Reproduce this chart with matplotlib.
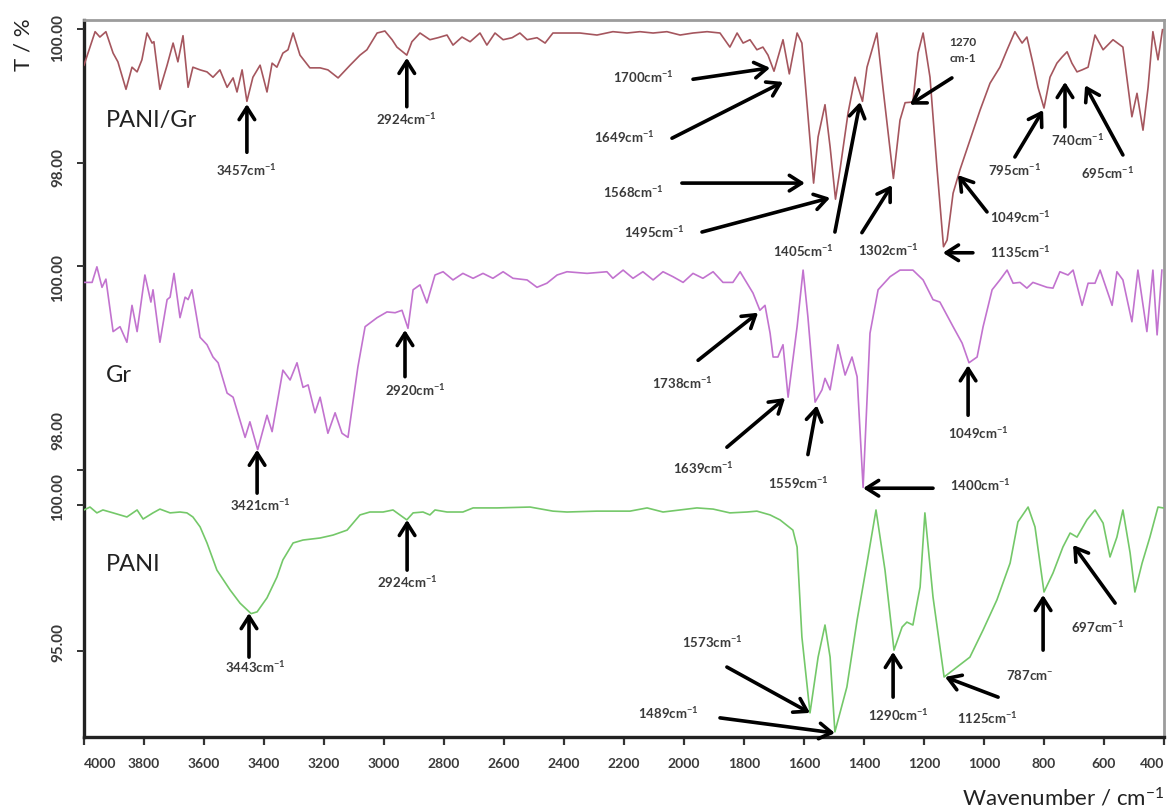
import matplotlib
matplotlib.use("Agg")
import matplotlib.pyplot as plt

plt.rcParams['font.family'] = ['Lato', 'DejaVu Sans']
plt.rcParams['mathtext.fontset'] = 'custom'
plt.rcParams['mathtext.rm'] = 'Lato'
plt.rcParams['mathtext.bf'] = 'Lato:bold'
plt.rcParams['mathtext.it'] = 'Lato:italic'

# ---------------- data (wavenumber cm-1, transmittance %) ----------------
wn_pg = [4000, 3963, 3947, 3927, 3903, 3887, 3860, 3840, 3823, 3807, 3790, 3773, 3767, 3747, 3723,
         3703, 3687, 3670, 3653, 3637, 3613, 3590, 3570, 3547, 3523, 3503, 3490, 3473, 3457, 3437,
         3413, 3390, 3373, 3357, 3337, 3320, 3303, 3280, 3247, 3213, 3187, 3153, 3113, 3080, 3057,
         3023, 2997, 2973, 2957, 2924, 2907, 2880, 2847, 2820, 2790, 2770, 2740, 2713, 2680, 2657,
         2630, 2603, 2573, 2547, 2523, 2490, 2463, 2437, 2390, 2347, 2290, 2237, 2190, 2147, 2103,
         2057, 2013, 1970, 1923, 1880, 1847, 1823, 1803, 1780, 1757, 1737, 1720, 1700, 1670, 1649,
         1623, 1607, 1568, 1553, 1530, 1513, 1495, 1480, 1453, 1430, 1405, 1390, 1357, 1337, 1302,
         1280, 1263, 1237, 1220, 1203, 1180, 1157, 1135, 1123, 1103, 1080, 1047, 1013, 980, 947,
         923, 897, 873, 857, 837, 820, 800, 780, 757, 740, 723, 707, 690, 673, 653,
         630, 603, 570, 537, 507, 490, 470, 453, 437, 420, 405]
t_pg = [99.46, 99.96, 99.88, 99.96, 99.64, 99.51, 99.10, 99.43, 99.36, 99.54, 99.94, 99.79, 99.81, 99.10, 99.46,
        99.79, 99.51, 99.90, 99.13, 99.43, 99.39, 99.36, 99.28, 99.39, 99.13, 99.27, 99.06, 99.39, 98.92, 99.28,
        99.46, 99.06, 99.49, 99.43, 99.64, 99.69, 99.94, 99.61, 99.42, 99.42, 99.39, 99.27, 99.46, 99.61, 99.69,
        99.94, 99.97, 99.84, 99.73, 99.61, 99.81, 99.94, 99.84, 99.87, 99.91, 99.76, 99.88, 99.81, 99.94, 99.76,
        99.94, 99.84, 99.87, 99.94, 99.84, 99.87, 99.79, 99.94, 99.94, 99.94, 99.91, 99.96, 99.94, 99.96, 99.94,
        99.96, 99.91, 99.94, 99.96, 99.94, 99.73, 99.94, 99.79, 99.84, 99.69, 99.73, 99.61, 99.37, 99.84, 99.33,
        99.94, 99.79, 97.70, 98.39, 98.87, 98.24, 97.46, 97.90, 98.75, 99.28, 98.92, 99.43, 99.94, 99.13, 97.77,
        98.64, 98.90, 98.91, 99.64, 99.94, 99.28, 97.94, 96.75, 96.85, 97.55, 97.90, 98.34, 98.79, 99.19, 99.43,
        99.69, 99.96, 99.79, 99.88, 99.49, 99.13, 98.82, 99.28, 99.49, 99.58, 99.66, 99.49, 99.36, 99.39, 99.43,
        99.91, 99.69, 99.84, 99.73, 98.69, 99.04, 98.49, 99.13, 99.96, 99.54, 99.99]

wn_gr = [4000, 3973, 3957, 3940, 3927, 3903, 3880, 3857, 3840, 3823, 3797, 3777, 3770, 3747, 3723,
         3713, 3700, 3680, 3663, 3653, 3640, 3613, 3590, 3570, 3553, 3523, 3503, 3463, 3447, 3421,
         3390, 3373, 3337, 3313, 3290, 3270, 3253, 3230, 3213, 3187, 3163, 3140, 3120, 3087, 3063,
         3023, 2990, 2963, 2940, 2920, 2903, 2880, 2857, 2830, 2803, 2770, 2737, 2703, 2670, 2637,
         2603, 2570, 2523, 2490, 2457, 2423, 2390, 2323, 2257, 2237, 2203, 2170, 2137, 2103, 2070,
         2037, 2003, 1970, 1937, 1903, 1870, 1837, 1813, 1790, 1770, 1747, 1730, 1713, 1703, 1687,
         1670, 1653, 1623, 1603, 1587, 1563, 1540, 1530, 1513, 1487, 1463, 1440, 1423, 1403, 1380,
         1353, 1313, 1280, 1237, 1203, 1170, 1147, 1103, 1073, 1050, 1023, 1003, 973, 947, 923,
         903, 880, 857, 837, 813, 790, 770, 747, 720, 703, 673, 653, 630, 613, 573,
         557, 537, 507, 487, 457, 437, 423, 407]
t_gr = [99.80, 99.80, 99.99, 99.74, 99.84, 99.20, 99.26, 99.07, 99.52, 99.20, 99.89, 99.56, 99.71, 99.07, 99.59,
        99.62, 99.91, 99.37, 99.62, 99.59, 99.71, 99.13, 99.04, 98.89, 98.82, 98.45, 98.40, 97.91, 98.10, 97.76,
        98.18, 97.98, 98.73, 98.61, 98.82, 98.52, 98.55, 98.21, 98.40, 97.96, 98.21, 97.96, 97.91, 98.77, 99.26,
        99.37, 99.44, 99.43, 99.46, 99.24, 99.71, 99.77, 99.55, 99.89, 99.93, 99.83, 99.91, 99.85, 99.91, 99.85,
        99.93, 99.85, 99.83, 99.74, 99.79, 99.89, 99.93, 99.91, 99.93, 99.85, 99.95, 99.85, 99.93, 99.83, 99.93,
        99.87, 99.80, 99.91, 99.85, 99.93, 99.80, 99.80, 99.93, 99.79, 99.67, 99.46, 99.52, 99.18, 98.89, 98.89,
        99.04, 98.40, 99.26, 99.95, 99.38, 98.34, 98.49, 98.63, 98.49, 99.04, 98.67, 98.89, 98.65, 97.30, 99.18,
        99.71, 99.87, 99.95, 99.95, 99.83, 99.59, 99.56, 99.26, 99.06, 98.82, 98.89, 99.26, 99.71, 99.83, 99.95,
        99.79, 99.80, 99.73, 99.80, 99.77, 99.74, 99.73, 99.93, 99.89, 99.95, 99.52, 99.79, 99.79, 99.95, 99.52,
        99.93, 99.83, 99.32, 99.95, 99.20, 99.95, 99.16, 99.95]

wn_pani = [4000, 3980, 3957, 3937, 3903, 3857, 3823, 3803, 3770, 3747, 3713, 3680, 3657, 3637, 3613,
           3590, 3557, 3513, 3480, 3443, 3423, 3390, 3357, 3337, 3303, 3270, 3213, 3170, 3123, 3080,
           3047, 3003, 2970, 2947, 2924, 2903, 2870, 2847, 2830, 2790, 2737, 2703, 2623, 2513, 2437,
           2390, 2290, 2180, 2123, 2070, 1957, 1903, 1847, 1790, 1757, 1713, 1680, 1637, 1623, 1607,
           1580, 1553, 1530, 1513, 1497, 1457, 1423, 1390, 1360, 1330, 1300, 1273, 1257, 1237, 1213,
           1197, 1170, 1133, 1090, 1047, 1003, 957, 913, 887, 853, 830, 800, 770, 737, 713,
           690, 657, 630, 603, 580, 557, 537, 513, 497, 473, 447, 420, 403]
t_pani = [99.83, 99.93, 99.73, 99.83, 99.73, 99.59, 99.83, 99.52, 99.73, 99.86, 99.73, 99.76, 99.73, 99.59, 99.25,
          98.70, 97.77, 97.09, 96.64, 96.28, 96.34, 96.82, 97.53, 98.12, 98.70, 98.80, 98.87, 98.97, 99.14, 99.66,
          99.76, 99.76, 99.83, 99.66, 99.49, 99.73, 99.76, 99.66, 99.83, 99.76, 99.76, 99.90, 99.90, 99.93, 99.79,
          99.76, 99.79, 99.79, 99.90, 99.76, 99.90, 99.86, 99.73, 99.76, 99.79, 99.66, 99.49, 99.14, 98.56, 95.48,
          92.88, 94.79, 95.89, 94.79, 92.23, 93.77, 96.06, 98.01, 99.83, 97.77, 95.03, 95.82, 95.99, 95.89, 97.19,
          99.73, 96.85, 94.11, 94.45, 94.79, 95.72, 96.75, 98.01, 99.42, 99.93, 99.25, 97.02, 97.67, 98.56, 99.04,
          98.90, 99.49, 99.83, 99.38, 98.22, 98.90, 99.83, 98.36, 97.02, 98.01, 98.90, 99.93, 99.90]

x_ticks = [4000, 3800, 3600, 3400, 3200, 3000, 2800, 2600, 2400, 2200, 2000, 1800, 1600, 1400, 1200,
           1000, 800, 600, 400]
names = ["PANI/Gr", "Gr", "PANI"]

# y-axis labels per panel: (tick values, (label text, value) pairs)
pg_ticks = [100, 98]
pg_labels = [("100.00", 100), ("98.00", 98)]
gr_ticks = [100, 97.51]
gr_labels = [("100.00", 100), ("98.00", 98)]
pani_ticks = [100, 95]
pani_labels = [("100.00", 100), ("95.00", 95)]

# peak annotations: (label, panel, head wn, head T, tail wn, tail T, text wn, text T)
peaks = [
    ("3457", 0, 3457, 98.88, 3457, 98.16, 3460, 97.90),
    ("2924", 0, 2924, 99.57, 2924, 98.84, 2924, 98.65),
    ("1700", 0, 1713, 99.42, 1970, 99.25, 2137, 99.28),
    ("1649", 0, 1670, 99.21, 2040, 98.37, 2200, 98.39),
    ("1568", 0, 1597, 97.70, 2007, 97.70, 2170, 97.57),
    ("1495", 0, 1513, 97.48, 1940, 96.97, 2100, 96.97),
    ("1405", 0, 1413, 98.91, 1497, 96.97, 1603, 96.69),
    ("1302", 0, 1307, 97.67, 1407, 96.96, 1320, 96.70),
    ("1135", 0, 1137, 96.66, 1037, 96.66, 880, 96.67),
    ("1049", 0, 1087, 97.82, 990, 97.27, 880, 97.19),
    ("795", 0, 803, 98.79, 897, 98.09, 897, 97.90),
    ("740", 0, 730, 99.21, 730, 98.54, 690, 98.34),
    ("695", 0, 663, 99.16, 537, 98.12, 590, 97.85),
    ("3421", 1, 3423, 97.76, 3423, 97.23, 3413, 97.09),
    ("2920", 1, 2930, 99.22, 2930, 98.65, 2897, 98.49),
    ("1738", 1, 1753, 99.43, 1953, 98.85, 2007, 98.57),
    ("1639", 1, 1663, 98.39, 1857, 97.79, 1937, 97.54),
    ("1559", 1, 1557, 98.30, 1587, 97.70, 1620, 97.35),
    ("1400", 1, 1403, 97.29, 1170, 97.29, 1013, 97.33),
    ("1049", 1, 1053, 98.79, 1053, 98.18, 1020, 97.96),
    ("3443", 2, 3450, 96.30, 3450, 94.79, 3430, 94.45),
    ("2924", 2, 2923, 99.49, 2923, 97.77, 2923, 97.36),
    ("1573", 2, 1580, 92.88, 1857, 94.45, 1907, 95.31),
    ("1489", 2, 1497, 92.19, 1880, 92.71, 2053, 92.88),
    ("1290", 2, 1303, 94.97, 1303, 93.42, 1287, 92.81),
    ("1125", 2, 1130, 94.11, 953, 93.42, 990, 92.71),
    ("787", 2, 803, 96.92, 803, 95.03, 847, 94.18),
    ("697", 2, 703, 98.63, 563, 96.64, 623, 95.82),
]
# the 1270 shoulder label (two-line, smaller) on the PANI/Gr trace
shoulder = ("1270", 0, 1247, 98.87, 1107, 99.27, 1070, 99.68)

# ---------------- layout ----------------
W, H = 1173, 811
fig = plt.figure(figsize=(W / 100, H / 100), dpi=100)
PX_L, PX_R, PX_T, PX_B = 84, 1164, 20, 737
rect = [PX_L / W, 1 - PX_B / H, (PX_R - PX_L) / W, (PX_B - PX_T) / H]
TXT = '#3a3a3a'

ax0 = fig.add_axes(rect)
ax0.set_xlim(4000, 400)
ax0.set_ylim(0, 1)
ax0.set_yticks([])
ax0.set_xticks(x_ticks)
ax0.set_xticklabels([str(v) for v in x_ticks], fontweight='bold', fontsize=10, color=TXT)
xl = ax0.get_xticklabels()
xl[0].set_ha('left')
xl[-1].set_ha('right')
ax0.tick_params(axis='x', length=6, width=1.6, pad=9, color='#333333')
for s in ['left', 'bottom']:
    ax0.spines[s].set_linewidth(2.4)
    ax0.spines[s].set_color('#222222')
for s in ['top', 'right']:
    ax0.spines[s].set_linewidth(2.0)
    ax0.spines[s].set_color('#9c9c9c')
ax0.set_xlabel("Wavenumber / cm$^{-1}$", fontsize=16, loc='right', labelpad=12, color='#222222')
ax0.set_ylabel("T / %", fontsize=16, color='#222222')
ax0.yaxis.set_label_coords((33 - PX_L) / (PX_R - PX_L), (PX_B - 45) / (PX_B - PX_T))


def panel(y100_px, yref_px, ref_val):
    ax = fig.add_axes(rect)
    ax.patch.set_alpha(0)
    ppu = (yref_px - y100_px) / (100 - ref_val)
    ax.set_ylim(100 - (PX_B - y100_px) / ppu, 100 + (y100_px - PX_T) / ppu)
    ax.set_xlim(4000, 400)
    for s in ax.spines.values():
        s.set_visible(False)
    ax.set_xticks([])
    ax.tick_params(axis='y', length=5, width=1.4, color='#333333', labelleft=False)
    return ax


ax_pani = panel(505, 651, 95)
ax_gr = panel(266, 430, 98)
ax_pg = panel(29, 163, 98)

# label vertical nudges (points) as they sit in the reference
label_shift = {0: [-6.5, -3.0], 1: [-8.6, 0.0], 2: [5.8, 5.8]}
for i, (ax, ticks, labels) in enumerate([(ax_pg, pg_ticks, pg_labels),
                                         (ax_gr, gr_ticks, gr_labels),
                                         (ax_pani, pani_ticks, pani_labels)]):
    ax.set_yticks(ticks)
    for (txt, val), dy in zip(labels, label_shift[i]):
        ax.annotate(txt, xy=(0, val), xycoords=('axes fraction', 'data'),
                    xytext=(-13.7, dy), textcoords='offset points', rotation=90,
                    ha='right', va='center', fontsize=11, fontweight='bold', color=TXT,
                    annotation_clip=False)

ax_pg.plot(wn_pg, t_pg, color='#a5565e', lw=1.2)
ax_gr.plot(wn_gr, t_gr, color='#c273cf', lw=1.2)
ax_pani.plot(wn_pani, t_pani, color='#74c869', lw=1.2)

axes = [ax_pg, ax_gr, ax_pani]
label_T = [98.63, 98.67, 97.95]
for ax, nm, ty in zip(axes, names, label_T):
    ax.text(3927, ty, nm, fontsize=17, ha='left', va='center', color='#222222')

arrow_kw = dict(arrowstyle='->,head_length=0.55,head_width=0.35', lw=2.6, color='black',
                mutation_scale=16, shrinkA=0, shrinkB=0)
for lab, p, hx, hy, tx, ty, lx, ly in peaks:
    ax = axes[p]
    ax.annotate("", xy=(hx, hy), xytext=(tx, ty), arrowprops=arrow_kw)
    sup = "-" if lab == "787" else "-1"
    ax.text(lx, ly, lab + r"cm$^{\mathbf{" + sup + "}}$", fontsize=9.5, fontweight='bold',
            color=TXT, ha='center', va='center')

lab, p, hx, hy, tx, ty, lx, ly = shoulder
axes[p].annotate("", xy=(hx, hy), xytext=(tx, ty), arrowprops=arrow_kw)
axes[p].text(lx, ly, lab + "\ncm-1", fontsize=8.5, fontweight='bold', color=TXT,
             ha='center', va='center', linespacing=1.5)

fig.savefig("out.png", dpi=100)
